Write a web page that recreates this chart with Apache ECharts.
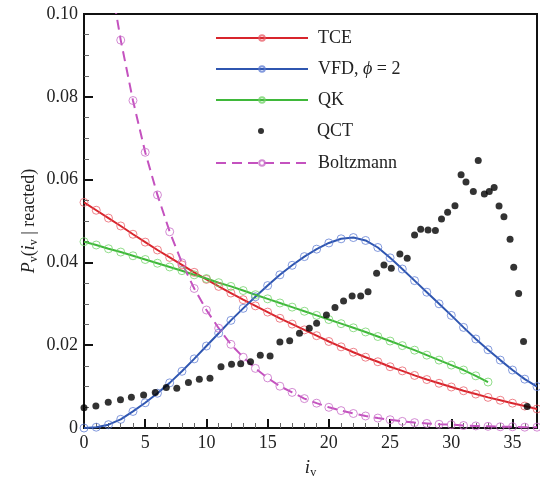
<!DOCTYPE html>
<html>
<head>
<meta charset="utf-8">
<script src="https://cdn.jsdelivr.net/npm/echarts@6/dist/echarts.min.js"></script>
<style>
html, body { margin: 0; padding: 0; background: #fff; }
#chart { width: 540px; height: 481px; }
</style>
</head>
<body>
<div id="chart"></div>
<script>
// vibrational levels i_v
const levels = [0, 1, 2, 3, 4, 5, 6, 7, 8, 9, 10, 11, 12, 13, 14, 15, 16, 17, 18, 19,
  20, 21, 22, 23, 24, 25, 26, 27, 28, 29, 30, 31, 32, 33, 34, 35, 36, 37];

const tce = [0.0545, 0.0526, 0.0507, 0.0488, 0.0468, 0.0449, 0.0430, 0.0412, 0.0394, 0.0376,
  0.0359, 0.0342, 0.0326, 0.0310, 0.0295, 0.0280, 0.0265, 0.0251, 0.0237, 0.0223,
  0.0209, 0.0196, 0.0183, 0.0171, 0.0160, 0.0148, 0.0138, 0.0127, 0.0117, 0.0108,
  0.0099, 0.0090, 0.0082, 0.0074, 0.0067, 0.0060, 0.0053, 0.0046];

const vfd = [0.0000, 0.0002, 0.0008, 0.0021, 0.0040, 0.0061, 0.0084, 0.0109, 0.0137, 0.0167,
  0.0198, 0.0229, 0.0260, 0.0289, 0.0317, 0.0344, 0.0370, 0.0393, 0.0414, 0.0432,
  0.0447, 0.0457, 0.0460, 0.0453, 0.0436, 0.0411, 0.0384, 0.0356, 0.0328, 0.0300,
  0.0272, 0.0243, 0.0215, 0.0189, 0.0164, 0.0140, 0.0118, 0.0100];

const qk = [0.0450, 0.0442, 0.0433, 0.0425, 0.0416, 0.0407, 0.0398, 0.0389, 0.0380, 0.0370,
  0.0361, 0.0351, 0.0342, 0.0332, 0.0322, 0.0312, 0.0302, 0.0292, 0.0282, 0.0272,
  0.0262, 0.0252, 0.0242, 0.0232, 0.0221, 0.0210, 0.0199, 0.0188, 0.0176, 0.0164,
  0.0152, 0.0140, 0.0126, 0.0111];

const boltz = [0.156, 0.132, 0.111, 0.0937, 0.0791, 0.0666, 0.0563, 0.0474, 0.0399, 0.0337,
  0.0285, 0.0241, 0.0202, 0.0171, 0.0144, 0.0121, 0.0101, 0.0086, 0.0071, 0.0060,
  0.0050, 0.0042, 0.0035, 0.0029, 0.0024, 0.0020, 0.0016, 0.0013, 0.0011, 0.0009,
  0.0008, 0.0006, 0.0005, 0.0004, 0.0003, 0.0003, 0.0002, 0.0002];

const qctI = [0.0, 0.97, 1.98, 2.98, 3.87, 4.87, 5.82, 6.72, 7.58, 8.53, 9.42, 10.29, 11.19, 12.05,
  12.8, 13.6, 14.4, 15.2, 16.0, 16.8, 17.6, 18.4, 19.0, 19.8, 20.5, 21.2, 21.9, 22.6, 23.2,
  23.9, 24.5, 25.1, 25.8, 26.4, 27.0, 27.5, 28.1, 28.7, 29.2, 29.7, 30.3, 30.8, 31.2, 31.8,
  32.2, 32.7, 33.1, 33.5, 33.9, 34.3, 34.8, 35.1, 35.5, 35.9, 36.2];
const qctP = [0.0049, 0.0053, 0.0062, 0.0068, 0.0074, 0.0080, 0.0086, 0.0098, 0.0096, 0.0110,
  0.0118, 0.0120, 0.0148, 0.0154, 0.0155, 0.0160, 0.0176, 0.0174, 0.0208, 0.0211,
  0.0229, 0.0241, 0.0253, 0.0273, 0.0291, 0.0307, 0.0319, 0.0319, 0.0329, 0.0374,
  0.0394, 0.0386, 0.0420, 0.0410, 0.0466, 0.0480, 0.0478, 0.0477, 0.0505, 0.0521,
  0.0537, 0.0612, 0.0594, 0.0571, 0.0646, 0.0565, 0.0571, 0.0581, 0.0536, 0.0510,
  0.0456, 0.0388, 0.0325, 0.0209, 0.0052];

const serif = "'Liberation Serif', 'DejaVu Serif', serif";

function pairs(vals) {
  return vals.map((v, k) => [levels[k], v]);
}

function lineSeries(name, vals, color, mark, dashed) {
  return {
    name: name,
    type: 'line',
    data: pairs(vals),
    symbol: 'circle',
    symbolSize: 8,
    showAllSymbol: true,
    lineStyle: { color: color, width: 2, type: dashed ? [10, 6] : 'solid' },
    itemStyle: { color: 'rgba(255,255,255,0)', borderColor: mark, borderWidth: 1 },
    z: 2
  };
}

var chart = echarts.init(document.getElementById('chart'));

const legendText = {
  fontFamily: serif, fontSize: 18, lineHeight: 18, color: '#222', padding: [0, 0, 0, 5],
  rich: {
    n: { fontFamily: serif, fontSize: 18, color: '#222' },
    it: { fontFamily: serif, fontSize: 18, fontStyle: 'italic', color: '#222' }
  }
};

const legendBase = {
  orient: 'vertical',
  left: 210,
  itemWidth: 92,
  itemHeight: 7,
  itemGap: 13,
  textStyle: legendText,
  formatter: function (name) {
    if (name === 'VFD') return '{n|VFD, }{it|\u03d5}{n| = 2}';
    return name;
  }
};

chart.setOption({
  animation: false,
  grid: {
    left: 84, right: 3, top: 14, bottom: 53,
    show: true, borderColor: '#111', borderWidth: 2,
    outerBoundsMode: 'none'
  },
  legend: [
    Object.assign({}, legendBase, { top: 24, data: ['TCE', 'VFD', 'QK'] }),
    Object.assign({}, legendBase, {
      top: 117, left: 253, itemWidth: 6, itemHeight: 6, data: ['QCT'],
      textStyle: Object.assign({}, legendText, { padding: [0, 0, 0, 48] })
    }),
    Object.assign({}, legendBase, { top: 149, data: ['Boltzmann'] })
  ],
  xAxis: {
    type: 'value',
    min: 0, max: 37, interval: 5,
    name: '{it|i}{sub|v}',
    nameLocation: 'middle',
    nameGap: 29,
    nameMoveOverlap: false,
    nameTextStyle: {
      color: '#222',
      rich: {
        it: { fontFamily: serif, fontSize: 19, fontStyle: 'italic', color: '#222' },
        sub: { fontFamily: serif, fontSize: 12, color: '#222', padding: [10, 0, 0, 0] }
      }
    },
    axisLine: { lineStyle: { color: '#111', width: 2 } },
    axisTick: { inside: true, length: 9, lineStyle: { color: '#111', width: 2 } },
    minorTick: { show: true, splitNumber: 5, length: 5, lineStyle: { color: '#666', width: 1 } },
    splitLine: { show: false },
    axisLabel: { fontFamily: serif, fontSize: 18, color: '#222', margin: 6, showMaxLabel: false }
  },
  yAxis: {
    type: 'value',
    min: 0, max: 0.1, interval: 0.02,
    name: '{it|P}{sub|v}{n|(}{it|i}{sub|v}{n| | reacted)}',
    nameLocation: 'middle',
    nameRotate: 90,
    nameGap: 44,
    nameMoveOverlap: false,
    nameTextStyle: {
      color: '#222',
      rich: {
        it: { fontFamily: serif, fontSize: 18, fontStyle: 'italic', color: '#222' },
        n: { fontFamily: serif, fontSize: 18, color: '#222' },
        sub: { fontFamily: serif, fontSize: 12, color: '#222', padding: [10, 0, 0, 0] }
      }
    },
    axisLine: { lineStyle: { color: '#111', width: 2 } },
    axisTick: { inside: true, length: 9, lineStyle: { color: '#111', width: 2 } },
    minorTick: { show: true, splitNumber: 4, length: 5, lineStyle: { color: '#666', width: 1 } },
    splitLine: { show: false },
    axisLabel: {
      fontFamily: serif, fontSize: 18, color: '#222', margin: 6,
      formatter: function (v) { return v === 0 ? '0' : v.toFixed(2); }
    }
  },
  series: [
    lineSeries('TCE', tce, '#d8252c', 'rgba(232,90,100,0.75)', false),
    lineSeries('VFD', vfd, '#2f56b0', 'rgba(90,120,210,0.75)', false),
    lineSeries('QK', qk, '#3fb83a', 'rgba(110,210,100,0.75)', false),
    {
      name: 'QCT',
      type: 'scatter',
      data: qctI.map((x, k) => [x, qctP[k]]),
      symbol: 'circle',
      symbolSize: 7,
      itemStyle: { color: '#000' },
      z: 4
    },
    lineSeries('Boltzmann', boltz, '#c452bf', 'rgba(200,110,200,0.8)', true)
  ]
});
</script>
</body>
</html>
